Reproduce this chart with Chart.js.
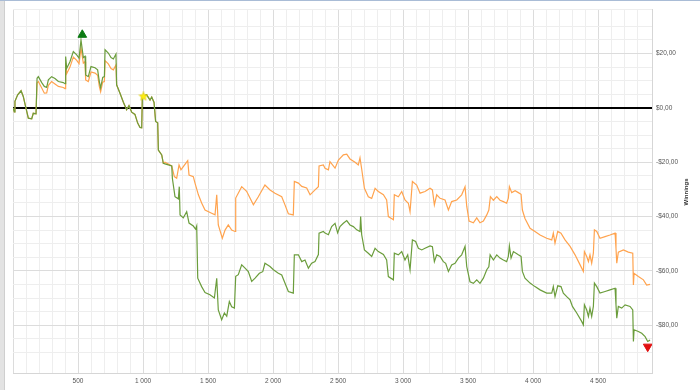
<!DOCTYPE html>
<html>
<head>
<meta charset="utf-8">
<script src="https://cdn.jsdelivr.net/npm/chart.js@4.4.1/dist/chart.umd.min.js"></script>
<style>
  html, body { margin: 0; padding: 0; background: #fff; overflow: hidden; }
  #wrap { width: 700px; height: 390px; position: relative; }
</style>
</head>
<body>
<div id="wrap"><canvas id="grafico"></canvas></div>
<script>
// Winnings per hand: [hand, dollars]
const greenSeries = [
  [0,0],[10,-1.5],[15,2.4],[36,4.8],[62,6.3],[79,4.2],[97,0.5],[118,-3.8],[144,-4],[156,-2],[177,-2.2],
  [185,10.9],[195,11.5],[221,9.3],[241,7.9],[259,7.5],[272,10.3],[297,11.5],[323,10.8],[349,9.7],[387,9.3],
  [400,8.9],[405,18.9],[413,14.6],[438,17],[464,20.7],[490,19.5],[508,18.3],[523,25],[541,18.5],[554,19],
  [559,12.1],[579,11.5],[600,15.2],[631,14.8],[651,14],[664,9.7],[674,7.4],[690,11.2],[703,11.5],[708,21.4],
  [733,20.2],[754,18.5],[772,18],[792,19.8],[797,8.5],[823,5.4],[849,2.1],[874,-0.7],[892,0.8],[913,-1.6],
  [938,-2.4],[959,-5.6],[977,-7.2],[990,-7.3],[995,4.2],[1028,4.8],[1054,2.9],[1067,4],[1085,2],[1097,-5],
  [1113,-5.5],[1118,-15.5],[1144,-17.3],[1156,-20.4],[1169,-20.6],[1221,-21.4],[1226,-26],[1246,-32.7],
  [1272,-33.5],[1279,-29],[1285,-39.4],[1310,-40.5],[1336,-38.2],[1354,-42.4],[1387,-43.5],[1405,-44.7],
  [1413,-43.5],[1421,-62.7],[1451,-65.8],[1477,-68],[1515,-68.8],[1549,-70],[1567,-62.7],[1579,-74.4],
  [1605,-78],[1626,-75.5],[1644,-76.7],[1664,-71.3],[1682,-73.2],[1703,-73.7],[1713,-62],[1733,-61.4],
  [1759,-57.8],[1785,-59],[1810,-60.3],[1836,-63.9],[1862,-62.7],[1895,-60.9],[1921,-60.3],[1938,-57.2],
  [1977,-58.4],[2003,-59.6],[2041,-60.9],[2067,-61.5],[2087,-63.9],[2118,-67.6],[2156,-68.2],[2164,-54.1],
  [2195,-54.1],[2221,-56.6],[2246,-56],[2272,-59],[2297,-57.2],[2323,-56.6],[2349,-54],[2354,-46.1],
  [2387,-45.5],[2400,-46.1],[2426,-46.7],[2451,-43.7],[2477,-42.5],[2497,-46],[2515,-43.7],[2541,-42.5],
  [2567,-41.5],[2592,-43.1],[2618,-43.7],[2644,-44.9],[2669,-45.5],[2674,-40],[2682,-46.7],[2703,-52.3],
  [2733,-53.5],[2759,-54.7],[2785,-51.7],[2810,-52.9],[2849,-54],[2874,-56],[2887,-62.1],[2926,-63.3],
  [2933,-53.5],[2964,-54.1],[2990,-52.9],[3015,-56],[3036,-54.1],[3054,-59.6],[3072,-48.6],[3097,-49.2],
  [3118,-51.7],[3144,-52.3],[3169,-51.7],[3208,-50.8],[3226,-51.1],[3241,-56.6],[3259,-54.1],[3285,-54.7],
  [3310,-56.6],[3328,-57.2],[3349,-60.2],[3374,-57.8],[3400,-57.2],[3426,-55.3],[3451,-54.1],[3477,-51],
  [3490,-58.4],[3515,-64],[3541,-64.6],[3567,-63.3],[3592,-64.6],[3618,-62.7],[3644,-59.6],[3660,-58.5],
  [3670,-54.1],[3695,-56],[3721,-54.1],[3746,-55.3],[3772,-56],[3797,-56.6],[3810,-54.7],[3818,-50.8],
  [3831,-55.3],[3849,-52.9],[3887,-54.1],[3908,-54.7],[3918,-60.2],[3938,-62.7],[3977,-64.5],[4015,-65.8],
  [4054,-67],[4105,-68.2],[4144,-68.2],[4156,-65.8],[4169,-69.5],[4190,-65.5],[4215,-65.8],[4233,-68.2],
  [4259,-69.5],[4285,-70.7],[4303,-73.1],[4336,-75.5],[4374,-78.6],[4387,-79.9],[4395,-72.5],[4413,-74.4],
  [4426,-76.8],[4438,-73.7],[4451,-76.8],[4464,-73.1],[4472,-64.5],[4490,-65.8],[4515,-68.2],[4554,-67.6],
  [4592,-67],[4631,-66.4],[4638,-72.5],[4644,-77.4],[4656,-73.1],[4682,-73.7],[4708,-72.5],[4746,-73.1],
  [4767,-74.4],[4772,-86],[4777,-81.7],[4810,-82.3],[4836,-83],[4862,-84.2],[4882,-86],[4900,-85.5]
];

// All-in EV per hand: [hand, dollars]
const orangeSeries = [
  [0,0],[10,-1.5],[15,2.4],[36,4.8],[62,6.3],[79,4.2],[97,0.5],[118,-3.8],[144,-4],[156,-2],[177,-2.2],
  [185,9.2],[195,9.7],[221,7.3],[241,5.4],[259,5.5],[272,8.3],[297,9.7],[323,8.8],[349,7.9],[387,7.5],
  [400,7.1],[405,16.5],[413,12.6],[438,15],[464,18.7],[490,17.5],[508,16.3],[523,22],[541,16.5],[554,17],
  [559,10.3],[579,9.7],[600,13.2],[631,12.8],[651,12],[664,7.9],[674,5.9],[690,9.5],[703,9.7],[708,17.4],
  [733,16.2],[754,14.5],[772,14],[792,15.8],[797,8.5],[823,5.4],[849,2.1],[874,-0.7],[892,0.8],[913,-1.6],
  [938,-2.4],[959,-5.6],[977,-7.2],[990,-7.3],[995,4.2],[1028,4.8],[1054,2.9],[1067,4],[1085,2],[1097,-5],
  [1113,-5.5],[1118,-15.5],[1144,-17.3],[1156,-20.4],[1169,-20],[1221,-21.4],[1241,-25.3],[1259,-25.9],
  [1277,-21],[1292,-22.8],[1310,-21.6],[1344,-19.4],[1354,-24.7],[1387,-25.3],[1400,-27.7],[1426,-32],
  [1451,-35],[1477,-37.6],[1528,-38.8],[1554,-39.4],[1567,-32],[1579,-43.1],[1610,-48],[1631,-45],
  [1656,-43.1],[1682,-45],[1708,-45.5],[1713,-33.2],[1759,-29],[1797,-30.7],[1823,-33.2],[1849,-35.7],
  [1887,-32.7],[1938,-28.4],[1977,-30.2],[2015,-31.4],[2067,-32.7],[2092,-35.7],[2118,-39],[2156,-39.4],
  [2164,-27.1],[2195,-27.7],[2221,-28.9],[2259,-29.5],[2285,-32],[2323,-30.2],[2349,-29],[2354,-21.4],
  [2387,-21],[2400,-22.2],[2426,-22.8],[2438,-19.8],[2477,-22.2],[2503,-19.2],[2541,-17.3],[2567,-17],
  [2592,-18.8],[2631,-20],[2656,-21],[2669,-18.4],[2682,-22.5],[2703,-29.6],[2733,-32.7],[2759,-33.3],
  [2785,-29.6],[2810,-30.8],[2849,-32],[2874,-33.9],[2887,-40],[2926,-41.2],[2933,-32],[2964,-32.7],
  [2990,-30.8],[3015,-33.9],[3041,-35.1],[3054,-38.2],[3072,-27.1],[3105,-28.4],[3131,-31.4],[3169,-30.8],
  [3208,-29.6],[3226,-30.2],[3241,-35.7],[3259,-32],[3285,-33.3],[3323,-33.9],[3349,-37.6],[3374,-34.5],
  [3413,-33.9],[3451,-32],[3477,-29],[3490,-36.2],[3508,-41.7],[3541,-42.3],[3567,-40.5],[3592,-42.3],
  [3618,-41.7],[3644,-39.4],[3660,-37.6],[3672,-32.7],[3695,-34],[3721,-32.7],[3746,-34],[3772,-34.5],
  [3797,-35.1],[3810,-33.2],[3818,-29],[3836,-31.2],[3862,-30.5],[3887,-31.2],[3908,-31.8],[3918,-37.6],
  [3938,-40.7],[3977,-44.3],[4015,-45.5],[4054,-46.8],[4105,-48],[4144,-48.6],[4156,-46.1],[4169,-49.8],
  [4190,-45.5],[4215,-46.1],[4246,-48.6],[4285,-51],[4323,-54.1],[4362,-57.8],[4387,-60.2],[4395,-52.9],
  [4413,-54.7],[4426,-56.6],[4438,-54.1],[4451,-57.2],[4464,-53.5],[4472,-44.9],[4490,-45.5],[4515,-48],
  [4554,-47.4],[4592,-46.8],[4631,-46.1],[4638,-51.7],[4644,-57.2],[4656,-53.1],[4695,-52.3],[4733,-53.1],
  [4767,-53.5],[4772,-65.2],[4777,-60.9],[4810,-62.1],[4849,-63.3],[4874,-65.2],[4900,-65]
];

// Markers: highest point, lowest point, star
const maxPoint = [533, 26.9];
const minPoint = [4882, -87.9];
const starPoint = [1003, 4.2];

// Tick labels
const xTickValues = [500, 1000, 1500, 2000, 2500, 3000, 3500, 4000, 4500];
const xTickLabels = ['500', '1 000', '1 500', '2 000', '2 500', '3 000', '3 500', '4 000', '4 500'];
const yTickValues = [20, 0, -20, -40, -60, -80];
const yTickLabels = ['$20,00', '$0,00', '-$20,00', '-$40,00', '-$60,00', '-$80,00'];

const colors = {
  green: '#6b9d3c',
  orange: '#ffa34e',
  gridMinor: '#eeeeee',
  gridMajor: '#dcdcdc',
  text: '#555555'
};

const fontFamily = '"Liberation Sans", Arial, sans-serif';

function toPoints(series) {
  return series.map(([x, y]) => ({ x, y }));
}

function findLabel(values, labels, v) {
  const i = values.findIndex(t => Math.abs(t - v) < 1e-6);
  return i >= 0 ? labels[i] : '';
}

// filled yellow star used as point style
function makeStar(size) {
  const c = document.createElement('canvas');
  c.width = size; c.height = size;
  const g = c.getContext('2d');
  const cx = size / 2, cy = size / 2, ro = size / 2 - 0.5, ri = ro * 0.45;
  g.beginPath();
  for (let i = 0; i < 10; i++) {
    const r = i % 2 === 0 ? ro : ri;
    const a = -Math.PI / 2 + i * Math.PI / 5;
    const px = cx + r * Math.cos(a), py = cy + r * Math.sin(a);
    if (i === 0) g.moveTo(px, py); else g.lineTo(px, py);
  }
  g.closePath();
  g.fillStyle = '#ffee10';
  g.fill();
  g.strokeStyle = '#d9c800';
  g.lineWidth = 0.6;
  g.stroke();
  return c;
}

// window frame, zero line and axis title
const decorPlugin = {
  id: 'decor',
  beforeDraw(chart) {
    const ctx = chart.ctx;
    ctx.save();
    ctx.fillStyle = '#ffffff';
    ctx.fillRect(0, 0, chart.width, chart.height);
    ctx.fillStyle = '#e3e3e3';
    ctx.fillRect(0, 0, 4, chart.height);
    ctx.fillStyle = '#cfcfcf';
    ctx.fillRect(4, 0, 1, chart.height);
    ctx.fillStyle = '#a9bcd6';
    ctx.fillRect(0, 0, chart.width, 1);
    ctx.restore();
  },
  beforeDatasetsDraw(chart) {
    const { ctx, chartArea } = chart;
    const y = Math.round(chart.scales.y.getPixelForValue(0));
    ctx.save();
    ctx.strokeStyle = '#000000';
    ctx.lineWidth = 2;
    ctx.beginPath();
    ctx.moveTo(chartArea.left, y);
    ctx.lineTo(chartArea.right, y);
    ctx.stroke();
    ctx.restore();
  },
  afterDraw(chart) {
    const ctx = chart.ctx;
    ctx.save();
    ctx.translate(686, 192);
    ctx.rotate(-Math.PI / 2);
    ctx.font = 'bold 6px ' + fontFamily;
    ctx.fillStyle = '#333333';
    ctx.textAlign = 'center';
    ctx.textBaseline = 'middle';
    ctx.fillText('Winnings', 0, 0);
    ctx.restore();
  }
};

const ctx = document.getElementById('grafico');

new Chart(ctx, {
  type: 'line',
  data: {
    datasets: [
      {
        label: 'star',
        data: [{ x: starPoint[0], y: starPoint[1] }],
        showLine: false,
        pointStyle: makeStar(10),
        pointRadius: 5
      },
      {
        label: 'max',
        data: [{ x: maxPoint[0], y: maxPoint[1] }],
        showLine: false,
        pointStyle: 'triangle',
        pointRadius: 5,
        backgroundColor: '#0b7a12',
        borderColor: '#0b7a12',
        borderWidth: 1
      },
      {
        label: 'min',
        data: [{ x: minPoint[0], y: minPoint[1] }],
        showLine: false,
        pointStyle: 'triangle',
        rotation: 180,
        pointRadius: 5,
        backgroundColor: '#e01010',
        borderColor: '#e01010',
        borderWidth: 1
      },
      {
        label: 'Winnings',
        data: toPoints(greenSeries),
        borderColor: colors.green,
        borderWidth: 1.2,
        pointRadius: 0,
        tension: 0
      },
      {
        label: 'All-in EV',
        data: toPoints(orangeSeries),
        borderColor: colors.orange,
        borderWidth: 1.2,
        pointRadius: 0,
        tension: 0
      }
    ]
  },
  options: {
    responsive: true,
    maintainAspectRatio: false,
    animation: false,
    layout: { padding: { left: 13, top: 9, right: 0, bottom: 0 } },
    plugins: {
      legend: { display: false },
      tooltip: { enabled: false }
    },
    scales: {
      x: {
        type: 'linear',
        min: 0,
        max: 4915,
        grid: {
          drawTicks: false,
          color: c => (Math.abs(c.tick.value % 500) < 1e-6 ? colors.gridMajor : colors.gridMinor)
        },
        border: { color: '#d6d6d6' },
        ticks: {
          stepSize: 100,
          autoSkip: false,
          maxRotation: 0,
          padding: 4,
          color: colors.text,
          font: { family: fontFamily, size: 6.5 },
          callback: v => findLabel(xTickValues, xTickLabels, v)
        },
        afterFit: s => { s.height = 17; }
      },
      y: {
        type: 'linear',
        position: 'right',
        min: -97.6,
        max: 36.4,
        grid: {
          drawTicks: false,
          color: c => (Math.abs(c.tick.value % 20) < 1e-6 ? colors.gridMajor : colors.gridMinor)
        },
        border: { color: '#d6d6d6' },
        ticks: {
          stepSize: 5,
          autoSkip: false,
          padding: 4,
          color: colors.text,
          font: { family: fontFamily, size: 6.5 },
          callback: v => findLabel(yTickValues, yTickLabels, v)
        },
        afterFit: s => { s.width = 48; }
      }
    }
  },
  plugins: [decorPlugin]
});
</script>
</body>
</html>
